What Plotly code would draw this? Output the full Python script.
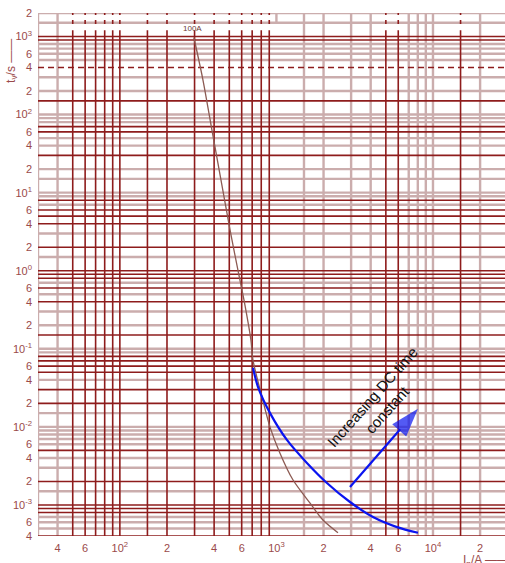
import numpy as np
import plotly.graph_objects as go

# ---- data -----------------------------------------------------------------
# 100 A fuse: prospective current (A) vs. pre-arcing time (s)
fuse_current = [297, 339, 387, 442, 505, 567, 629, 687, 708, 808, 909, 1052, 1274, 1636, 1982, 2472]
fuse_time = [971, 281, 64, 14.7, 3.36, 1.03, 0.366, 0.130, 0.0722, 0.0243, 0.0100,
             0.00464, 0.00210, 0.00106, 6.4e-4, 4.4e-4]

# same fuse with a DC time constant in the circuit
dc_current = [708, 762, 909, 1167, 1566, 2102, 2951, 4140, 5892, 8017]
dc_time = [0.057, 0.0326, 0.0151, 0.0068, 0.00345, 0.00191, 0.00109, 7.0e-4, 5.2e-4, 4.4e-4]

# arrow: tail -> head (current A, time s)
arrow_current = [2951, 8017]
arrow_time = [0.0017, 0.017]

# axis extents
x_min, x_max = 30, 10 ** 4.46
y_min, y_max = 4e-4, 2e3

# tick labels
x_tickvals = [40, 60, 100, 200, 400, 600, 1000, 2000, 4000, 6000, 10000, 20000]
x_ticktext = ["4", "6", "10<sup>2</sup>", "2", "4", "6", "10<sup>3</sup>", "2", "4", "6",
              "10<sup>4</sup>", "2"]
y_tickvals = [2e3, 1e3, 6e2, 4e2, 2e2, 1e2, 60, 40, 20, 10, 6, 4, 2, 1, 0.6, 0.4, 0.2, 0.1,
              0.06, 0.04, 0.02, 0.01, 6e-3, 4e-3, 2e-3, 1e-3, 6e-4, 4e-4]
y_ticktext = ["2", "10<sup>3</sup>", "6", "4", "2", "10<sup>2</sup>", "6", "4", "2",
              "10<sup>1</sup>", "6", "4", "2", "10<sup>0</sup>", "6", "4", "2",
              "10<sup>-1</sup>", "6", "4", "2", "10<sup>-2</sup>", "6", "4", "2",
              "10<sup>-3</sup>", "6", "4"]

# ---- graph paper ----------------------------------------------------------
# one character per multiplier: d = dark rule, l = light rule, = dashed, t = top band only
mults = [1, 1.5, 2, 3, 4, 5, 6, 7, 8, 9]
h_rules = {3: "dll.......", 2: "ldll=lllld", 1: "llldllddll", 0: "dldldddldl",
           -1: "ldlldldldd", -2: "llddlddddl", -3: "dldlldllll", -4: "....dllldd"}
v_rules = {1: "...llddddd", 2: "dddddddddd", 3: "tllllddlll", 4: "ldl......."}

DARK = "#8e1c1c"
LIGHT = "#cbadad"
TICK = "#9a4a4a"

seg = {"d": ([], []), "l": ([], []), "=": ([], []), "top": ([], [])}

def add(key, xs, ys):
    seg[key][0].extend(xs + [None])
    seg[key][1].extend(ys + [None])

y_band_lo, y_band_hi = 1.2e3, 1.45e3
for k, code in h_rules.items():
    for m, c in zip(mults, code):
        v = m * 10.0 ** k
        if c == "." or v < y_min * 0.999 or v > y_max * 1.001:
            continue
        add(c, [x_min, x_max], [v, v])
for k, code in v_rules.items():
    for m, c in zip(mults, code):
        v = m * 10.0 ** k
        if c == "." or v < x_min * 0.999 or v > x_max:
            continue
        if c == "d":
            add("d", [v, v], [y_min, y_band_lo])
            add("top", [v, v], [y_band_hi, y_max])
        elif c == "t":
            add("l", [v, v], [y_band_hi, y_max])
        else:
            add("l", [v, v], [y_min, y_max])

fig = go.Figure()
styles = {"l": dict(color=LIGHT, width=2.4),
          "d": dict(color=DARK, width=1.6),
          "=": dict(color=DARK, width=1.6, dash="6px,4px"),
          "top": dict(color=DARK, width=1.6, dash="4px,5px")}
for key in ["l", "d", "=", "top"]:
    xs, ys = seg[key]
    fig.add_trace(go.Scatter(x=xs, y=ys, mode="lines", line=styles[key],
                             hoverinfo="skip", showlegend=False))

# ---- curves ---------------------------------------------------------------
fig.add_trace(go.Scatter(x=fuse_current, y=fuse_time, mode="lines",
                         line=dict(color="#8c5a52", width=1.3, shape="spline", smoothing=0.8),
                         showlegend=False))
fig.add_trace(go.Scatter(x=dc_current, y=dc_time, mode="lines",
                         line=dict(color="#0a14f0", width=2.2, shape="spline", smoothing=0.8),
                         showlegend=False))
fig.add_trace(go.Scatter(x=arrow_current, y=arrow_time, mode="lines+markers",
                         line=dict(color="#0a14f0", width=2.2),
                         marker=dict(symbol="arrow", size=[0, 30], angleref="previous",
                                     color="#0a14f0", line=dict(width=0)),
                         showlegend=False))

# ---- labels ---------------------------------------------------------------
fig.add_annotation(x=np.log10(293), y=np.log10(1270), text="100A", showarrow=False,
                   font=dict(family="Liberation Sans", size=8, color="#6e3a36"))
fig.add_annotation(x=np.log10(4580), y=np.log10(0.0200), text="Increasing DC time<br>constant",
                   showarrow=False, textangle=-48.5,
                   font=dict(family="Liberation Sans, Arial", size=15, color="#111111"))
fig.add_annotation(xref="paper", yref="paper", x=-0.057, y=0.955, xanchor="center",
                   yanchor="top", text="t<sub>v</sub>/s ——", textangle=-90, showarrow=False,
                   font=dict(family="Liberation Sans Narrow, Liberation Sans", size=12, color=TICK))
fig.add_annotation(xref="paper", yref="paper", x=0.905, y=-0.047, xanchor="left",
                   yanchor="middle", text="I<sub>p</sub>/A ——", showarrow=False,
                   font=dict(family="Liberation Sans Narrow, Liberation Sans", size=12, color=TICK))

axis_font = dict(family="Liberation Sans Narrow, Liberation Sans", size=11, color=TICK)
fig.update_xaxes(type="log", range=[np.log10(x_min), np.log10(x_max)], showgrid=False,
                 zeroline=False, showline=False, tickvals=x_tickvals, ticktext=x_ticktext,
                 tickfont=axis_font, ticks="", ticklabelstandoff=4)
fig.update_yaxes(type="log", range=[np.log10(y_min), np.log10(y_max)], showgrid=False,
                 zeroline=False, showline=False, tickvals=y_tickvals, ticktext=y_ticktext,
                 tickfont=axis_font, ticks="", ticklabelstandoff=5)
fig.update_layout(width=505, height=563, margin=dict(l=38, r=0, t=13, b=27),
                  paper_bgcolor="white", plot_bgcolor="white", showlegend=False)

fig.write_html("out.html")
